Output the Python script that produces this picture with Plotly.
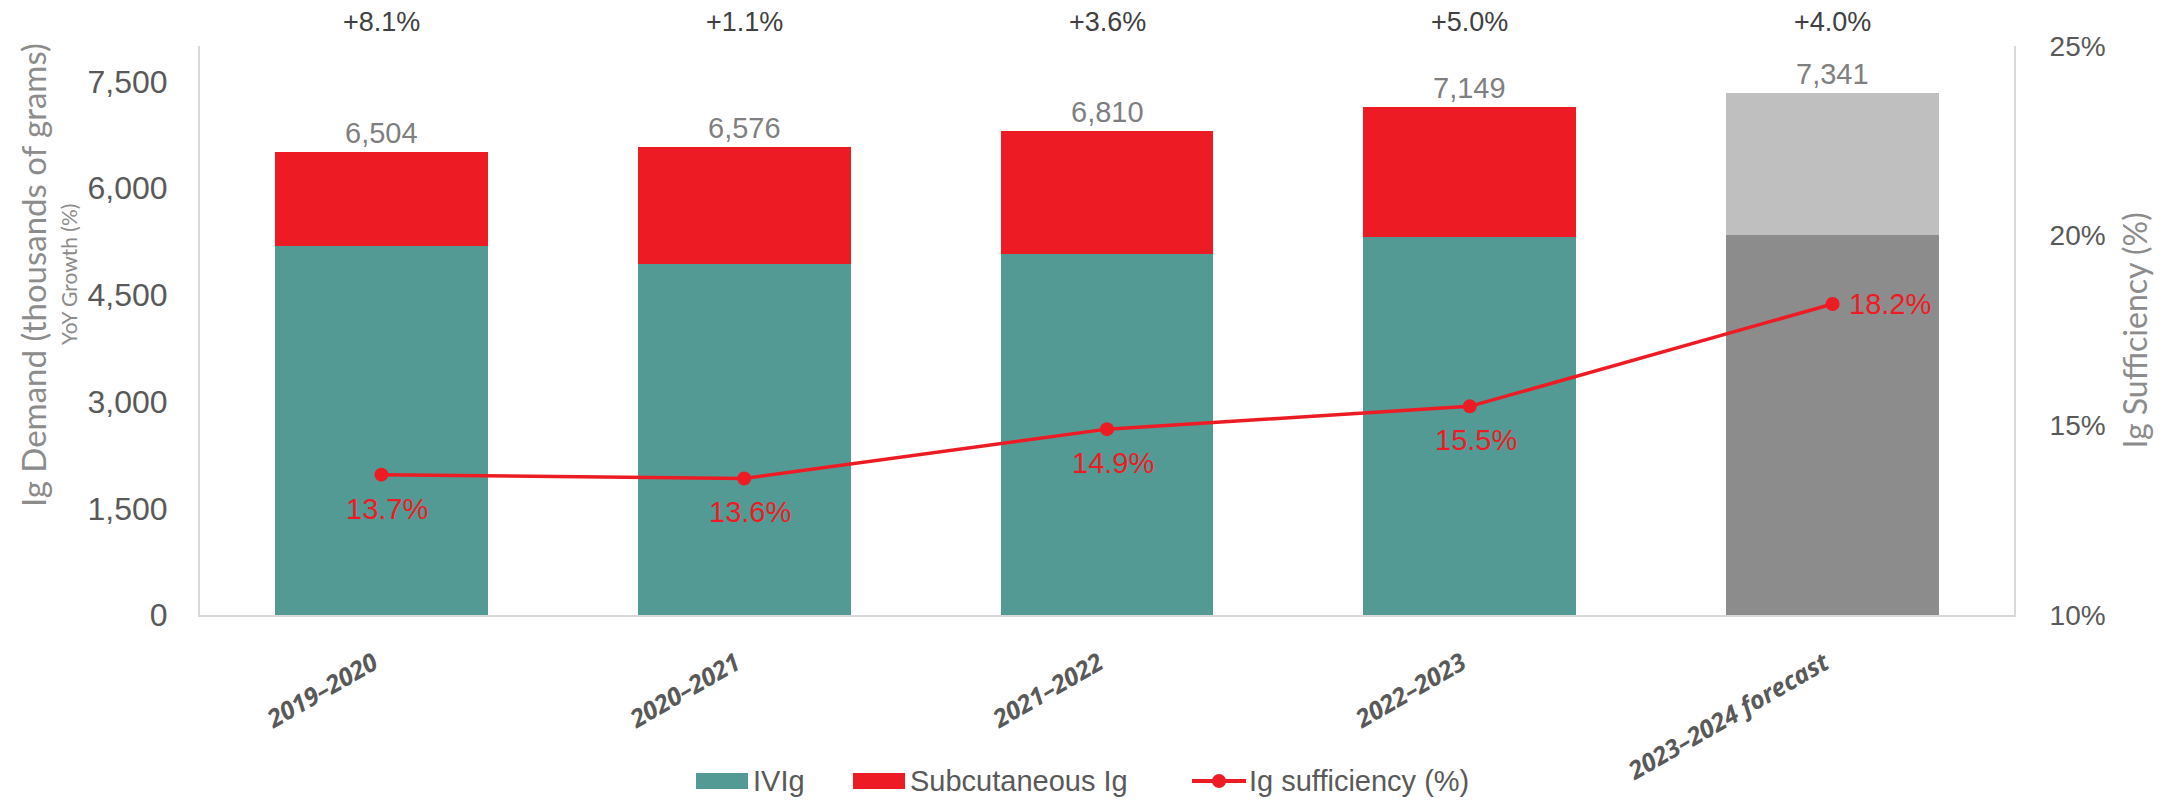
import plotly.graph_objects as go

# -------------------------------------------------
# Data
# -------------------------------------------------
years = ["2019–2020", "2020–2021", "2021–2022", "2022–2023", "2023–2024 forecast"]
ivig = [5190, 4935, 5080, 5315, 5345]
scig = [1314, 1641, 1730, 1834, 1996]
totals = [6504, 6576, 6810, 7149, 7341]
sufficiency = [13.7, 13.6, 14.9, 15.5, 18.2]
yoy_growth = ["+8.1%", "+1.1%", "+3.6%", "+5.0%", "+4.0%"]

left_ticks = [0, 1500, 3000, 4500, 6000, 7500]
right_ticks = [10, 15, 20, 25]
right_tick_text = ["10%", "15%", "20%", "25%"]

TEAL = "#549A94"
RED = "#ED1C24"
DARK_GREY = "#8C8C8C"
LIGHT_GREY = "#BFBFBF"
AXIS_GREY = "#D9D9D9"
TEXT_GREY = "#595959"
TITLE_GREY = "#8C8C8C"
ARIAL = "Liberation Sans, Arial"

# last bar is a forecast -> grey shades
ivig_colors = [TEAL] * 4 + [DARK_GREY]
scig_colors = [RED] * 4 + [LIGHT_GREY]

# -------------------------------------------------
# Geometry: the page body has an 8px margin, so the figure is
# a bit smaller than the window and the plot box is placed inside it
# -------------------------------------------------
W, H = 2150, 789
plot_l, plot_r, plot_t, plot_b = 192, 144, 38, 182
pw = W - plot_l - plot_r
ph = H - plot_t - plot_b

fig = go.Figure()

fig.add_trace(go.Bar(
    x=years, y=ivig, name="IVIg",
    marker=dict(color=ivig_colors, line=dict(width=0)),
    hovertemplate="%{x}<br>IVIg: %{y:,}<extra></extra>",
))
fig.add_trace(go.Bar(
    x=years, y=scig, name="Subcutaneous Ig",
    marker=dict(color=scig_colors, line=dict(width=0)),
    hovertemplate="%{x}<br>SCIg: %{y:,}<extra></extra>",
))

# sufficiency line on the right axis
fig.add_trace(go.Scatter(
    x=years, y=sufficiency, name="Ig sufficiency (%)",
    yaxis="y2",
    mode="lines+markers",
    line=dict(color=RED, width=3.5),
    marker=dict(color=RED, size=14),
    hovertemplate="%{x}<br>%{y:.1f}%<extra></extra>",
))

# line labels: below the point, last one to the right
for i, (yr, v) in enumerate(zip(years, sufficiency)):
    last = i == len(years) - 1
    fig.add_annotation(
        x=yr, y=v, xref="x", yref="y2",
        text=f"{v:.1f}%", showarrow=False,
        xanchor="left" if last else "center",
        yanchor="middle" if last else "top",
        xshift=14 if last else 6,
        yshift=0 if last else -16,
        font=dict(family=ARIAL, size=29, color=RED),
    )

# total labels above the bars
for yr, tot in zip(years, totals):
    fig.add_annotation(
        x=yr, y=tot, xref="x", yref="y",
        text=f"{tot:,}", showarrow=False,
        yanchor="bottom", yshift=1,
        font=dict(family=ARIAL, size=29, color="#7F7F7F"),
    )

# YoY growth row above the plot
for yr, g in zip(years, yoy_growth):
    fig.add_annotation(
        x=yr, y=1, xref="x", yref="paper",
        text=g, showarrow=False,
        yanchor="bottom", yshift=7,
        font=dict(family=ARIAL, size=27, color="#404040"),
    )

# axis titles drawn as annotations so they can sit where Excel put them
fig.add_annotation(
    x=0, y=0.5975, xref="paper", yref="paper",
    xanchor="center", yanchor="middle",
    xshift=-167, text="Ig Demand (thousands of grams)",
    textangle=-90, showarrow=False,
    font=dict(family="Lato", size=33, color=TITLE_GREY),
)
fig.add_annotation(
    x=0, y=0.5975, xref="paper", yref="paper",
    xanchor="center", yanchor="middle",
    xshift=-132, text="YoY Growth (%)",
    textangle=-90, showarrow=False,
    font=dict(family="Lato", size=21, color=TITLE_GREY),
)
fig.add_annotation(
    x=1, y=0.5, xref="paper", yref="paper",
    xanchor="center", yanchor="middle",
    xshift=120, text="Ig Sufficiency (%)",
    textangle=-90, showarrow=False,
    font=dict(family="Lato", size=32, color=TITLE_GREY),
)


# helpers: pixel offsets measured from the plot box (left edge / bottom edge)
def px_x(dx):
    return dx / pw


def px_y(dy):
    return -dy / ph


# Excel-style legend (wide swatches) built from shapes + text in paper space
leg_dy = 166  # legend centre below the x axis line
legend_items = [
    ("IVIg", TEAL, "box", 496),
    ("Subcutaneous Ig", RED, "box", 653),
    ("Ig sufficiency (%)", RED, "line", 992),
]
for label, col, kind, x0 in legend_items:
    if kind == "box":
        fig.add_shape(type="rect", xref="paper", yref="paper",
                      x0=px_x(x0), x1=px_x(x0 + 52),
                      y0=px_y(leg_dy + 8), y1=px_y(leg_dy - 8),
                      fillcolor=col, line=dict(width=0))
    else:
        fig.add_shape(type="line", xref="paper", yref="paper",
                      x0=px_x(x0), x1=px_x(x0 + 54),
                      y0=px_y(leg_dy), y1=px_y(leg_dy),
                      line=dict(color=col, width=4))
        fig.add_shape(type="circle", xref="paper", yref="paper",
                      x0=px_x(x0 + 20), x1=px_x(x0 + 34),
                      y0=px_y(leg_dy + 7), y1=px_y(leg_dy - 7),
                      fillcolor=col, line=dict(width=0))
    fig.add_annotation(
        x=px_x(x0 + 56), y=px_y(leg_dy), xref="paper", yref="paper",
        xanchor="left", yanchor="middle", text=label, showarrow=False,
        borderpad=0,
        font=dict(family=ARIAL, size=29, color=TEXT_GREY),
    )

fig.update_layout(
    width=W, height=H,
    margin=dict(l=plot_l, r=plot_r, t=plot_t, b=plot_b),
    barmode="stack",
    bargap=0.413,
    plot_bgcolor="white",
    paper_bgcolor="white",
    showlegend=False,
    xaxis=dict(
        automargin=False,
        showline=True, linecolor=AXIS_GREY, linewidth=2,
        showgrid=False,
        ticks="outside", ticklen=22, tickcolor="rgba(0,0,0,0)",
        tickangle=-30,
        ticklabelshift=-8,
        tickfont=dict(family="Open Sans", size=25, color=TEXT_GREY,
                      weight="bold", style="italic"),
    ),
    yaxis=dict(
        automargin=False,
        range=[0, 8000],
        tickvals=left_ticks,
        tickformat=",",
        showline=True, linecolor=AXIS_GREY, linewidth=2,
        showgrid=False, zeroline=False,
        ticks="outside", ticklen=24, tickcolor="rgba(0,0,0,0)",
        tickfont=dict(family=ARIAL, size=32, color=TEXT_GREY),
    ),
    yaxis2=dict(
        automargin=False,
        overlaying="y", side="right",
        range=[10, 25],
        tickvals=right_ticks,
        ticktext=right_tick_text,
        showline=True, linecolor=AXIS_GREY, linewidth=2,
        showgrid=False, zeroline=False,
        ticks="outside", ticklen=28, tickcolor="rgba(0,0,0,0)",
        tickfont=dict(family=ARIAL, size=28, color=TEXT_GREY),
    ),
)

fig.write_html("out.html")
